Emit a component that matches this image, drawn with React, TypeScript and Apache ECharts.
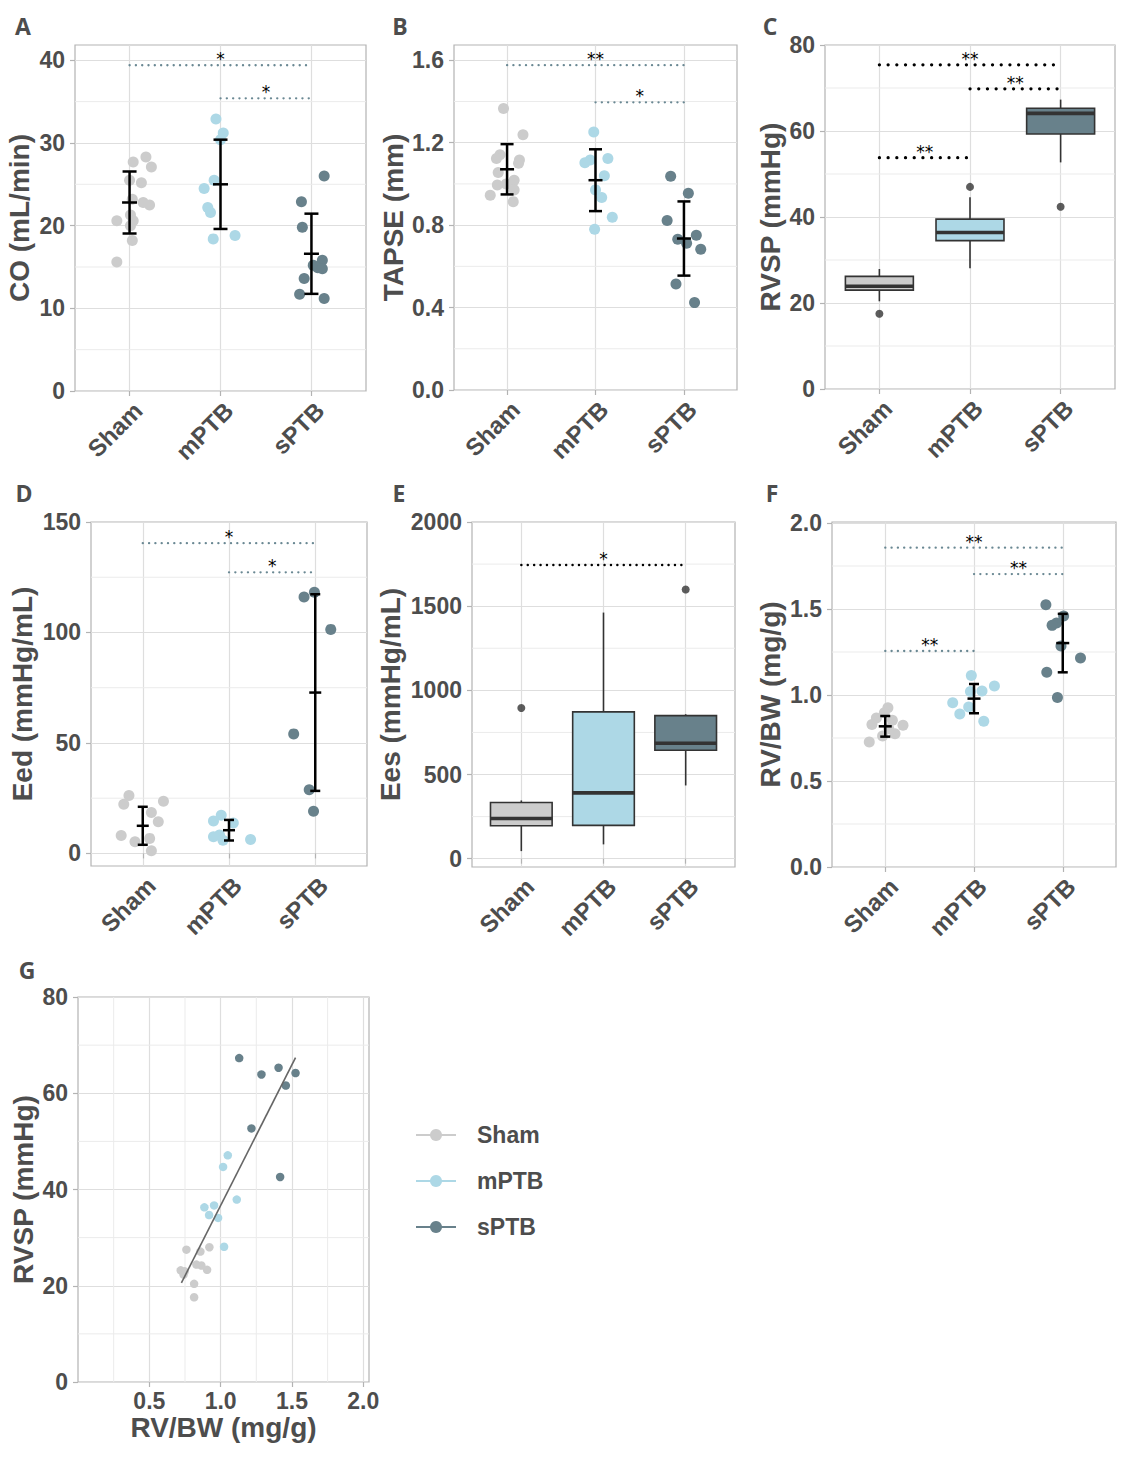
import React, { useEffect, useRef } from 'react';
import * as echarts from 'echarts';

// ---------------- categories ----------------
const groups = ['Sham', 'mPTB', 'sPTB'];
const groupX = [1, 2, 3];

// ---------------- A: CO (mL/min) ----------------
const coSham = [28.3, 27.7, 27.1, 25.5, 25.2, 23.2, 22.8, 22.5, 21.3, 20.6, 20.6, 20.0, 18.2, 15.6];
const coShamJitter = [0.18, 0.04, 0.24, 0.0, 0.13, 0.03, 0.15, 0.22, 0.01, -0.14, 0.04, 0.01, 0.03, -0.14];
const coMPTB = [32.9, 31.2, 30.4, 25.5, 24.5, 22.2, 21.6, 18.8, 18.4];
const coMPTBJitter = [-0.05, 0.03, 0.0, -0.07, -0.18, -0.14, -0.11, 0.16, -0.08];
const coSPTB = [26.0, 22.9, 19.8, 15.8, 15.2, 14.9, 14.8, 13.6, 11.7, 11.2];
const coSPTBJitter = [0.14, -0.11, -0.1, 0.12, 0.02, 0.07, 0.12, -0.08, -0.13, 0.14];
const coMean = [22.8, 25.0, 16.6];
const coSd = [3.75, 5.4, 4.85];
const coSigFrom = [1, 2];
const coSigTo = [3, 3];
const coSigY = [39.4, 35.4];
const coSigText = ['*', '*'];
const coTicks = [0, 10, 20, 30, 40];
const coMinor = [5, 15, 25, 35];

// ---------------- B: TAPSE (mm) ----------------
const tapseSham = [1.366, 1.238, 1.141, 1.123, 1.116, 1.1, 1.055, 1.018, 1.0, 0.995, 0.971, 0.945, 0.914];
const tapseShamJitter = [-0.04, 0.18, -0.08, -0.12, 0.14, 0.13, -0.1, 0.08, -0.01, -0.11, 0.08, -0.19, 0.07];
const tapseMPTB = [1.252, 1.123, 1.116, 1.103, 1.04, 0.971, 0.934, 0.838, 0.78];
const tapseMPTBJitter = [-0.02, 0.14, -0.06, -0.12, 0.1, 0.0, 0.07, 0.19, -0.01];
const tapseSPTB = [1.037, 0.955, 0.822, 0.751, 0.731, 0.712, 0.683, 0.514, 0.424];
const tapseSPTBJitter = [-0.15, 0.05, -0.19, 0.14, -0.07, 0.03, 0.19, -0.09, 0.12];
const tapseMean = [1.071, 1.018, 0.735];
const tapseSd = [0.122, 0.15, 0.18];
const tapseSigFrom = [1, 2];
const tapseSigTo = [3, 3];
const tapseSigY = [1.576, 1.396];
const tapseSigText = ['**', '*'];
const tapseTicks = [0, 0.4, 0.8, 1.2, 1.6];
const tapseMinor = [0.2, 0.6, 1.0, 1.4];

// ---------------- C: RVSP (mmHg) boxplot ----------------
// [min, Q1, median, Q3, max]
const rvspBoxSham = [20.4, 23.0, 23.9, 26.2, 27.9];
const rvspBoxMPTB = [28.1, 34.5, 36.4, 39.5, 44.6];
const rvspBoxSPTB = [52.7, 59.3, 64.1, 65.3, 67.3];
const rvspOutlierGroup = [1, 2, 3];
const rvspOutlierValue = [17.5, 47.0, 42.4];
const rvspSigFrom = [1, 2, 1];
const rvspSigTo = [3, 3, 2];
const rvspSigY = [75.4, 69.8, 53.8];
const rvspSigText = ['**', '**', '**'];
const rvspTicks = [0, 20, 40, 60, 80];
const rvspMinor = [10, 30, 50, 70];

// ---------------- D: Eed (mmHg/mL) ----------------
const eedSham = [26.2, 23.6, 22.2, 18.5, 14.3, 8.1, 6.8, 5.3, 1.2];
const eedShamJitter = [-0.16, 0.24, -0.22, 0.1, 0.18, -0.25, 0.08, -0.09, 0.1];
const eedMPTB = [17.3, 14.7, 13.8, 8.3, 7.5, 6.3, 6.0];
const eedMPTBJitter = [-0.09, -0.18, 0.05, -0.11, -0.18, 0.25, -0.07];
const eedSPTB = [118.2, 116.1, 101.4, 54.1, 28.8, 19.1];
const eedSPTBJitter = [-0.01, -0.13, 0.18, -0.25, -0.07, -0.02];
const eedMean = [12.5, 10.5, 72.8];
const eedSd = [8.6, 4.65, 44.5];
const eedSigFrom = [1, 2];
const eedSigTo = [3, 3];
const eedSigY = [140.4, 127.2];
const eedSigText = ['*', '*'];
const eedTicks = [0, 50, 100, 150];
const eedMinor = [25, 75, 125];

// ---------------- E: Ees (mmHg/mL) boxplot ----------------
const eesBoxSham = [45, 196, 239, 334, 346];
const eesBoxMPTB = [85, 198, 391, 872, 1462];
const eesBoxSPTB = [435, 644, 686, 850, 858];
const eesOutlierGroup = [1, 3];
const eesOutlierValue = [895, 1599];
const eesSigFrom = [1];
const eesSigTo = [3];
const eesSigY = [1745];
const eesSigText = ['*'];
const eesTicks = [0, 500, 1000, 1500, 2000];
const eesMinor = [250, 750, 1250, 1750];

// ---------------- F: RV/BW (mg/g) ----------------
const rvbwSham = [0.926, 0.897, 0.866, 0.853, 0.828, 0.824, 0.804, 0.775, 0.762, 0.727];
const rvbwShamJitter = [0.03, -0.01, -0.1, 0.08, -0.15, 0.2, 0.04, 0.11, -0.03, -0.18];
const rvbwMPTB = [1.114, 1.052, 1.023, 1.021, 0.955, 0.93, 0.89, 0.847];
const rvbwMPTBJitter = [-0.03, 0.23, 0.09, -0.04, -0.24, -0.06, -0.16, 0.11];
const rvbwSPTB = [1.525, 1.459, 1.419, 1.405, 1.285, 1.215, 1.132, 0.986];
const rvbwSPTBJitter = [-0.19, 0.01, -0.07, -0.12, -0.02, 0.2, -0.18, -0.06];
const rvbwMean = [0.818, 0.979, 1.302];
const rvbwSd = [0.06, 0.085, 0.17];
const rvbwSigFrom = [1, 2, 1];
const rvbwSigTo = [3, 3, 2];
const rvbwSigY = [1.857, 1.703, 1.256];
const rvbwSigText = ['**', '**', '**'];
const rvbwTicks = [0, 0.5, 1.0, 1.5, 2.0];
const rvbwMinor = [0.25, 0.75, 1.25, 1.75];

// ---------------- G: RVSP vs RV/BW ----------------
const gShamX = [0.76, 0.858, 0.921, 0.83, 0.865, 0.905, 0.72, 0.748, 0.814, 0.814, 0.74];
const gShamY = [27.5, 27.1, 28.0, 24.4, 24.2, 23.3, 23.2, 23.0, 20.4, 17.6, 22.3];
const gMPTBX = [1.05, 1.017, 1.113, 0.886, 0.954, 0.919, 0.982, 1.024];
const gMPTBY = [47.1, 44.7, 37.9, 36.3, 36.7, 34.7, 34.1, 28.1];
const gSPTBX = [1.13, 1.286, 1.406, 1.525, 1.457, 1.216, 1.417];
const gSPTBY = [67.3, 63.9, 65.3, 64.2, 61.6, 52.7, 42.6];
const gFitX = [0.725, 1.525];
const gFitY = [20.6, 67.4];
const gXTicks = [0.5, 1.0, 1.5, 2.0];
const gXMinor = [0.25, 0.75, 1.25, 1.75];
const gYTicks = [0, 20, 40, 60, 80];
const gYMinor = [10, 30, 50, 70];

// ---------------- styles ----------------
const TXT = '#4d4d4d';
const FONT = '"Liberation Sans", Arial, "DejaVu Sans", sans-serif';
const LETTER_FONT = '"Open Sans", "Liberation Sans", sans-serif';
const MAJOR = '#dedede';
const MINOR = '#ebebeb';
const BORDER = '#b3b3b3';
const GROUP_COLORS = ['#cccccc', '#add8e6', '#68818b'];
const BOX_STROKE = '#333333';
const SIG_GREY = '#6a8893';

const fmt = (dec: number) => (v: number) => (dec ? Number(v).toFixed(dec) : String(Math.round(v)));
const tickStyle = { show: true, length: 5, lineStyle: { color: BORDER, width: 1.2 } };
const labelText = { fontSize: 23, fontWeight: 'bold', color: TXT, fontFamily: FONT };
const catLabelText = { fontSize: 24, fontWeight: 'bold', color: TXT, fontFamily: FONT };
const nameText = { fontSize: 28, fontWeight: 'bold', color: TXT, fontFamily: FONT };

function catX(gi: number) {
  return {
    type: 'value', gridIndex: gi, min: 0.4, max: 3.6,
    axisLine: { show: false },
    axisTick: { ...tickStyle, customValues: groupX },
    axisLabel: {
      ...catLabelText, customValues: groupX,
      formatter: (v: number) => groups[Math.round(v) - 1] || '',
      rotate: 45, align: 'right', verticalAlign: 'top', margin: 7,
    },
    splitLine: { show: true, lineStyle: { color: MAJOR, width: 1.2 } },
  };
}

function valY(gi: number, min: number, max: number, ticks: number[], dec: number, name: string, gap: number) {
  return {
    type: 'value', gridIndex: gi, min, max, name, nameLocation: 'middle', nameGap: gap,
    nameTextStyle: nameText,
    axisLine: { show: false },
    axisTick: { ...tickStyle, customValues: ticks },
    axisLabel: { ...labelText, customValues: ticks, formatter: fmt(dec), margin: 10 },
    splitLine: { show: true, lineStyle: { color: MAJOR, width: 1.2 } },
  };
}

function minorH(gi: number, values: number[]) {
  return {
    type: 'custom', xAxisIndex: gi, yAxisIndex: gi, silent: true, z: 1,
    data: values.map((v) => [v]),
    renderItem: (params: any, api: any) => {
      const cs = params.coordSys;
      const v = api.value(0);
      const y = api.coord([v, v])[1];
      return { type: 'line', shape: { x1: cs.x, y1: y, x2: cs.x + cs.width, y2: y }, style: { stroke: MINOR, lineWidth: 1 } };
    },
  };
}

function minorV(gi: number, values: number[]) {
  return {
    type: 'custom', xAxisIndex: gi, yAxisIndex: gi, silent: true, z: 1,
    data: values.map((v) => [v]),
    renderItem: (params: any, api: any) => {
      const cs = params.coordSys;
      const v = api.value(0);
      const x = api.coord([v, v])[0];
      return { type: 'line', shape: { x1: x, y1: cs.y, x2: x, y2: cs.y + cs.height }, style: { stroke: MINOR, lineWidth: 1 } };
    },
  };
}

function dots(gi: number, g: number, vals: number[], jit: number[], size: number) {
  return {
    type: 'scatter', xAxisIndex: gi, yAxisIndex: gi, z: 2, silent: true, symbolSize: size,
    itemStyle: { color: GROUP_COLORS[g], opacity: 1 },
    data: vals.map((v, i) => [groupX[g] + jit[i], v]),
  };
}

function errBars(gi: number, mean: number[], sd: number[], capW: number, meanW: number) {
  return {
    type: 'custom', xAxisIndex: gi, yAxisIndex: gi, z: 4, silent: true,
    data: mean.map((m, i) => [groupX[i], m, sd[i]]),
    renderItem: (params: any, api: any) => {
      const x = api.value(0), m = api.value(1), s = api.value(2);
      const t = api.coord([x, m + s]), b = api.coord([x, m - s]), c = api.coord([x, m]);
      const st = { stroke: '#000', lineWidth: 2.5 };
      const h = (p: number[], w: number) => ({ type: 'line', shape: { x1: p[0] - w / 2, y1: p[1], x2: p[0] + w / 2, y2: p[1] }, style: st });
      return {
        type: 'group',
        children: [
          { type: 'line', shape: { x1: t[0], y1: t[1], x2: b[0], y2: b[1] }, style: st },
          h(t, capW), h(b, capW), h(c, meanW),
        ],
      };
    },
  };
}

function boxes(gi: number, stats: number[][]) {
  return {
    type: 'custom', xAxisIndex: gi, yAxisIndex: gi, z: 2, silent: true,
    data: stats.map((s, i) => [groupX[i], ...s]),
    renderItem: (params: any, api: any) => {
      const x = api.value(0);
      const half = api.size([0.75, 0], [x, 0])[0] / 2;
      const pMin = api.coord([x, api.value(1)]);
      const pQ1 = api.coord([x, api.value(2)]);
      const pMed = api.coord([x, api.value(3)]);
      const pQ3 = api.coord([x, api.value(4)]);
      const pMax = api.coord([x, api.value(5)]);
      const ln = { stroke: BOX_STROKE, lineWidth: 1.6 };
      return {
        type: 'group',
        children: [
          { type: 'line', shape: { x1: pMax[0], y1: pMax[1], x2: pQ3[0], y2: pQ3[1] }, style: ln },
          { type: 'line', shape: { x1: pMin[0], y1: pMin[1], x2: pQ1[0], y2: pQ1[1] }, style: ln },
          { type: 'rect', shape: { x: pQ1[0] - half, y: pQ3[1], width: 2 * half, height: pQ1[1] - pQ3[1] }, style: { fill: GROUP_COLORS[params.dataIndex], stroke: BOX_STROKE, lineWidth: 1.6 } },
          { type: 'line', shape: { x1: pMed[0] - half, y1: pMed[1], x2: pMed[0] + half, y2: pMed[1] }, style: { stroke: BOX_STROKE, lineWidth: 3.6 } },
        ],
      };
    },
  };
}

function outliers(gi: number, grp: number[], vals: number[]) {
  return {
    type: 'scatter', xAxisIndex: gi, yAxisIndex: gi, z: 3, silent: true, symbolSize: 8,
    itemStyle: { color: '#333333' },
    data: vals.map((v, i) => [grp[i], v]),
  };
}

function sig(gi: number, from: number[], to: number[], ys: number[], texts: string[], color: string, width: number, gap: number) {
  return {
    type: 'custom', xAxisIndex: gi, yAxisIndex: gi, z: 5, silent: true,
    data: ys.map((y, i) => [from[i], to[i], y, i]),
    renderItem: (params: any, api: any) => {
      const y = api.value(2);
      const a = api.coord([api.value(0), y]);
      const b = api.coord([api.value(1), y]);
      return {
        type: 'group',
        children: [
          { type: 'line', shape: { x1: a[0], y1: a[1], x2: b[0], y2: b[1] }, style: { stroke: color, lineWidth: width, lineDash: [0.1, gap], lineCap: 'round' } },
          { type: 'text', x: (a[0] + b[0]) / 2, y: a[1] - 6, style: { text: texts[api.value(3)], fill: '#000', fontSize: 17, fontFamily: '"DejaVu Sans", sans-serif', align: 'center', verticalAlign: 'middle' } },
        ],
      };
    },
  };
}

function buildOption() {
  const grid = [
    { left: 75, top: 45, width: 291, height: 346 },
    { left: 454, top: 45, width: 283, height: 345 },
    { left: 825, top: 45, width: 290, height: 344 },
    { left: 91, top: 522, width: 276, height: 344 },
    { left: 472, top: 522, width: 263, height: 345 },
    { left: 832, top: 522, width: 284, height: 345 },
    { left: 78, top: 997, width: 291, height: 385 },
  ].map((g) => ({ ...g, show: true, borderColor: BORDER, borderWidth: 1.2, backgroundColor: 'transparent', containLabel: false }));

  const xAxis: any[] = [catX(0), catX(1), catX(2), catX(3), catX(4), catX(5), {
    type: 'value', gridIndex: 6, min: 0, max: 2.04, name: 'RV/BW (mg/g)', nameLocation: 'middle', nameGap: 31,
    nameTextStyle: nameText,
    axisLine: { show: false },
    axisTick: { ...tickStyle, customValues: gXTicks },
    axisLabel: { ...labelText, customValues: gXTicks, formatter: fmt(1), margin: 7 },
    splitLine: { show: true, lineStyle: { color: MAJOR, width: 1.2 } },
  }];

  const yAxis: any[] = [
    valY(0, 0, 41.85, coTicks, 0, 'CO (mL/min)', 42),
    valY(1, 0, 1.674, tapseTicks, 1, 'TAPSE (mm)', 47),
    valY(2, 0, 80, rvspTicks, 0, 'RVSP (mmHg)', 41),
    valY(3, -5.7, 150, eedTicks, 0, 'Eed (mmHg/mL)', 55),
    valY(4, -49.4, 2000, eesTicks, 0, 'Ees (mmHg/mL)', 68),
    valY(5, 0, 2.006, rvbwTicks, 1, 'RV/BW (mg/g)', 48),
    valY(6, 0, 80, gYTicks, 0, 'RVSP (mmHg)', 41),
  ];

  const series: any[] = [];
  // legend carrier series (no data)
  groups.forEach((g, i) => {
    series.push({
      type: 'line', name: g, xAxisIndex: 6, yAxisIndex: 6, data: [], symbol: 'circle',
      itemStyle: { color: GROUP_COLORS[i] }, lineStyle: { color: GROUP_COLORS[i], width: 3.5 },
    });
  });

  // A
  series.push(minorH(0, coMinor));
  series.push(dots(0, 0, coSham, coShamJitter, 11));
  series.push(dots(0, 1, coMPTB, coMPTBJitter, 11));
  series.push(dots(0, 2, coSPTB, coSPTBJitter, 11));
  series.push(errBars(0, coMean, coSd, 14, 15));
  series.push(sig(0, coSigFrom, coSigTo, coSigY, coSigText, SIG_GREY, 2.3, 6.2));

  // B
  series.push(minorH(1, tapseMinor));
  series.push(dots(1, 0, tapseSham, tapseShamJitter, 11));
  series.push(dots(1, 1, tapseMPTB, tapseMPTBJitter, 11));
  series.push(dots(1, 2, tapseSPTB, tapseSPTBJitter, 11));
  series.push(errBars(1, tapseMean, tapseSd, 13, 14));
  series.push(sig(1, tapseSigFrom, tapseSigTo, tapseSigY, tapseSigText, SIG_GREY, 2.3, 6.2));

  // C
  series.push(minorH(2, rvspMinor));
  series.push(boxes(2, [rvspBoxSham, rvspBoxMPTB, rvspBoxSPTB]));
  series.push(outliers(2, rvspOutlierGroup, rvspOutlierValue));
  series.push(sig(2, rvspSigFrom, rvspSigTo, rvspSigY, rvspSigText, '#000', 3.2, 8.6));

  // D
  series.push(minorH(3, eedMinor));
  series.push(dots(3, 0, eedSham, eedShamJitter, 11));
  series.push(dots(3, 1, eedMPTB, eedMPTBJitter, 11));
  series.push(dots(3, 2, eedSPTB, eedSPTBJitter, 11));
  series.push(errBars(3, eedMean, eedSd, 10, 12));
  series.push(sig(3, eedSigFrom, eedSigTo, eedSigY, eedSigText, SIG_GREY, 2.3, 6.2));

  // E
  series.push(minorH(4, eesMinor));
  series.push(boxes(4, [eesBoxSham, eesBoxMPTB, eesBoxSPTB]));
  series.push(outliers(4, eesOutlierGroup, eesOutlierValue));
  series.push(sig(4, eesSigFrom, eesSigTo, eesSigY, eesSigText, '#000', 2.4, 6.3));

  // F
  series.push(minorH(5, rvbwMinor));
  series.push(dots(5, 0, rvbwSham, rvbwShamJitter, 11));
  series.push(dots(5, 1, rvbwMPTB, rvbwMPTBJitter, 11));
  series.push(dots(5, 2, rvbwSPTB, rvbwSPTBJitter, 11));
  series.push(errBars(5, rvbwMean, rvbwSd, 10, 13));
  series.push(sig(5, rvbwSigFrom, rvbwSigTo, rvbwSigY, rvbwSigText, SIG_GREY, 2.3, 6.2));

  // G
  series.push(minorH(6, gYMinor));
  series.push(minorV(6, gXMinor));
  const gx = [gShamX, gMPTBX, gSPTBX];
  const gy = [gShamY, gMPTBY, gSPTBY];
  gx.forEach((xs, g) => {
    series.push({
      type: 'scatter', xAxisIndex: 6, yAxisIndex: 6, z: 2, silent: true, symbolSize: 8.5,
      itemStyle: { color: GROUP_COLORS[g], opacity: 1 },
      data: xs.map((x, i) => [x, gy[g][i]]),
    });
  });
  series.push({
    type: 'line', xAxisIndex: 6, yAxisIndex: 6, z: 3, silent: true, symbol: 'none',
    lineStyle: { color: '#666666', width: 1.6 },
    data: gFitX.map((x, i) => [x, gFitY[i]]),
  });

  const letters = [
    ['A', 23, 26], ['B', 400, 26], ['C', 770, 26],
    ['D', 24, 493], ['E', 399, 493], ['F', 772, 493], ['G', 27, 970],
  ];

  return {
    animation: false,
    backgroundColor: '#ffffff',
    grid,
    xAxis,
    yAxis,
    series,
    legend: {
      orient: 'vertical', left: 410, top: 1118, itemWidth: 40, itemHeight: 15, itemGap: 22,
      selectedMode: false, data: groups,
      textStyle: { fontSize: 23, fontWeight: 'bold', color: TXT, fontFamily: FONT, lineHeight: 24, padding: [0, 0, 0, 16] },
    },
    graphic: letters.map(([t, x, y]) => ({
      type: 'text', x, y, silent: true,
      style: { text: t, fontSize: 23, fontWeight: 'bold', fill: TXT, fontFamily: LETTER_FONT, align: 'center', verticalAlign: 'middle' },
    })),
  };
}

export default function App() {
  const ref = useRef<HTMLDivElement>(null);
  useEffect(() => {
    document.body.style.margin = '0';
    const chart = echarts.init(ref.current as HTMLDivElement, null, { renderer: 'svg', width: 1125, height: 1473 });
    chart.setOption(buildOption() as any);
    return () => chart.dispose();
  }, []);
  return <div ref={ref} style={{ width: 1125, height: 1473 }} />;
}
